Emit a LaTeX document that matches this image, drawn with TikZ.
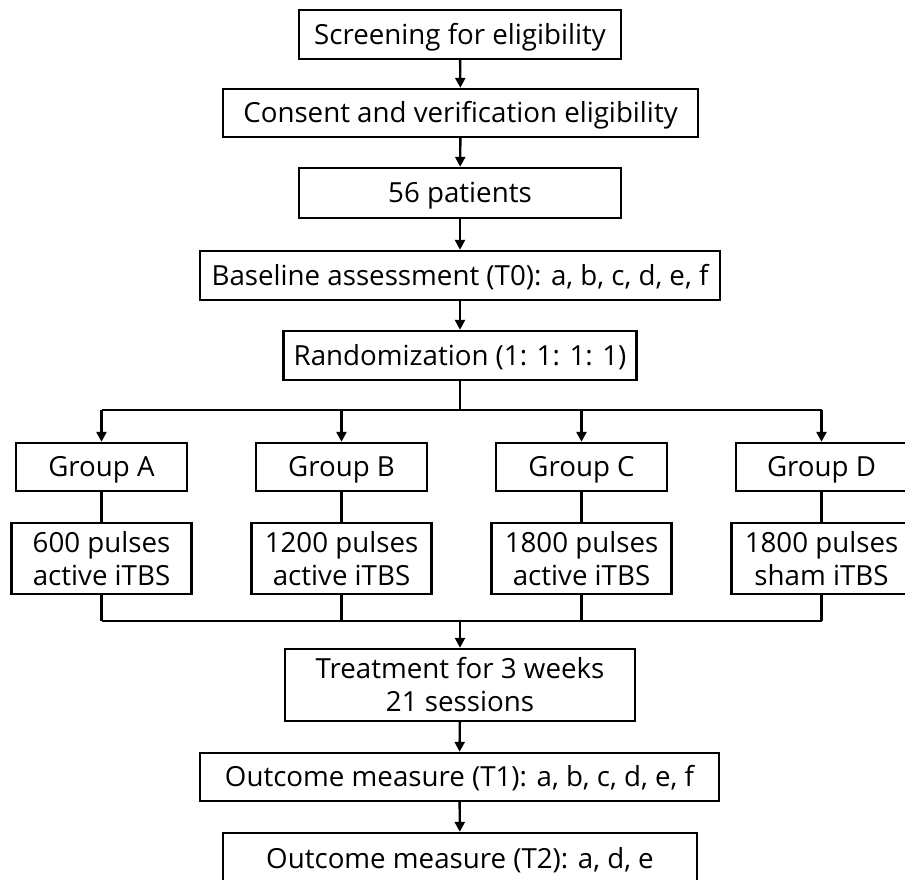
\documentclass[tikz,border=0pt]{standalone}
\usepackage{fontspec}
\setmainfont{Open Sans}
\usetikzlibrary{arrows.meta}
\begin{document}
\begin{tikzpicture}[x=1pt,y=-1pt,
  box/.style={draw,line width=2.4pt,inner sep=0pt,align=center,font=\fontsize{27.7}{33}\selectfont,text height=19.8pt,text depth=0pt},
  box2/.style={draw,line width=2.4pt,inner sep=0pt,align=center,font=\fontsize{27.7}{33}\selectfont},
  conn/.style={line width=2.4pt},
  arr/.style={line width=2.4pt,-{Triangle[length=10pt,width=10pt]}}]
\useasboundingbox (0,0) rectangle (905,879);
\clip (0,0) rectangle (905,879);
\node[box,minimum width=322pt,minimum height=49pt] (s1) at (460,34.5) {Screening for eligibility};
\node[box,minimum width=475pt,minimum height=48pt] (s2) at (460.5,113) {Consent and verification eligibility};
\node[box,minimum width=322pt,minimum height=50pt] (s3) at (460,193) {56 patients};
\node[box,minimum width=520pt,minimum height=49pt] (s4) at (460,275.5) {Baseline assessment (T0): a, b, c, d, e, f};
\node[box,minimum width=353pt,minimum height=49pt] (s5) at (460,355.5) {Randomization (1: 1: 1: 1)};
\coordinate (br) at (460,410);
\foreach \n/\x/\t/\p in {a/101.5/Group A/{600 pulses\\active iTBS},b/341.5/Group B/{1200 pulses\\active iTBS},c/581.5/Group C/{1800 pulses\\active iTBS},d/821.5/Group D/{1800 pulses\\sham iTBS}}{
  \node[box,minimum width=171pt,minimum height=48pt] (g\n) at (\x,467) {\t};
  \node[box2,minimum width=180pt,minimum height=71pt] (p\n) at (\x,558.5) {\p};
  \coordinate (t\n) at (\x,410);
  \coordinate (m\n) at (\x,621);
}
\node[box2,minimum width=350pt,minimum height=72pt] (tr) at (460,685) {Treatment for 3 weeks\\21 sessions};
\node[box,minimum width=519pt,minimum height=48pt] (o1) at (459.5,777) {Outcome measure (T1): a, b, c, d, e, f};
\node[box,minimum width=474pt,minimum height=52pt] (o2) at (460,859) {Outcome measure (T2): a, d, e};
\coordinate (mg) at (460,621);
\draw[arr] (s1) -- (s2);
\draw[arr] (s2) -- (s3);
\draw[arr] (s3) -- (s4);
\draw[arr] (s4) -- (s5);
\draw[conn] (s5) -- (br);
\draw[conn] (ta) -- (td);
\draw[conn] (ma) -- (md);
\foreach \n in {a,b,c,d}{
  \draw[arr] (t\n) -- (g\n);
  \draw[conn] (g\n) -- (p\n);
  \draw[conn] (p\n) -- (m\n);
}
\draw[arr] (mg) -- (tr);
\draw[arr] (tr) -- (o1);
\draw[arr] (o1) -- (o2);
\end{tikzpicture}
\end{document}
